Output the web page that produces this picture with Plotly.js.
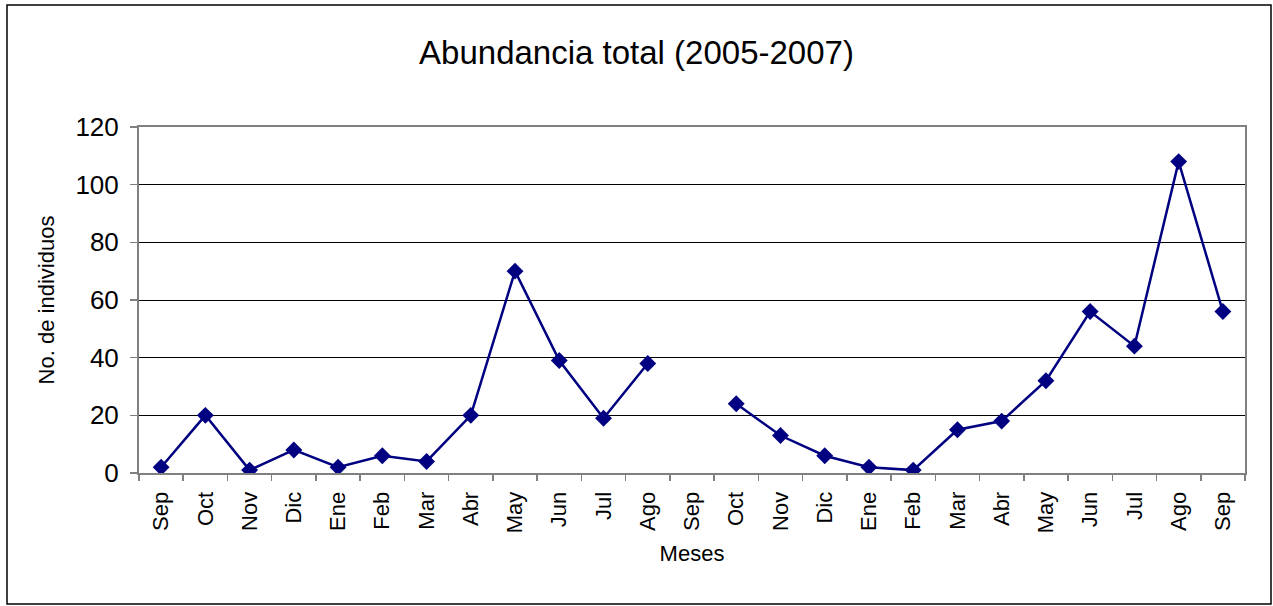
<!DOCTYPE html>
<html>
<head>
<meta charset="utf-8">
<script src="https://cdn.plot.ly/plotly-3.0.1.min.js"></script>
<style>html,body{margin:0;padding:0;background:#fff}#chart{width:1273px;height:606px}</style>
</head>
<body>
<div id="chart"></div>
<script>
const months = ["Sep","Oct","Nov","Dic","Ene","Feb","Mar","Abr","May","Jun","Jul","Ago",
                "Sep","Oct","Nov","Dic","Ene","Feb","Mar","Abr","May","Jun","Jul","Ago","Sep"];
const abundance = [2,20,1,8,2,6,4,20,70,39,19,38,
                   null,24,13,6,2,1,15,18,32,56,44,108,56];

const idx = months.map((m,i)=>i);
const boundaries = months.map((m,i)=>i-0.5).concat([months.length-0.5]);

const font = "Liberation Sans, Arial, sans-serif";
const L=139, R=1245, T=127, B=473;
const W=R-L, H=B-T;

const traces = [{
  x: idx, y: abundance, type: "scatter", mode: "lines+markers",
  connectgaps: false,
  line: {color: "#000080", width: 2.5},
  marker: {symbol: "diamond", size: 13, color: "#000080"},
  hoverinfo: "y"
},{
  x: [0], y: [null], xaxis: "x2", type: "scatter", showlegend: false, hoverinfo: "skip"
}];

const layout = {
  width: 1273, height: 606,
  margin: {l: L, r: 1273-R, t: T, b: 606-B},
  paper_bgcolor: "#fff", plot_bgcolor: "#fff",
  showlegend: false,
  title: {text: "Abundancia total (2005-2007)", font: {family: font, size: 33, color: "#000"},
          x: 0.5, xanchor: "center", y: 1-52/606, yanchor: "middle", automargin: false},
  xaxis: {
    range: [-0.5, months.length-0.5], tickmode: "array", tickvals: idx, ticktext: months,
    tickangle: -90, ticks: "", showgrid: false, zeroline: false, automargin: false,
    tickfont: {family: font, size: 22, color: "#000"}, ticklabelstandoff: 8,
    showline: true, linecolor: "#808080", linewidth: 2, mirror: true,
    title: {text: "Meses", font: {family: font, size: 22, color: "#000"}, standoff: 13},
    fixedrange: true
  },
  xaxis2: {
    overlaying: "x", side: "bottom", range: [-0.5, months.length-0.5],
    tickmode: "array", tickvals: boundaries, ticktext: boundaries.map(()=>""),
    ticks: "outside", ticklen: 7, tickcolor: "#808080", tickwidth: 1.5, automargin: false,
    showgrid: false, zeroline: false, showline: false, fixedrange: true
  },
  yaxis: {
    range: [0, 120], tickmode: "array", tickvals: [0,20,40,60,80,100,120],
    ticks: "outside", ticklen: 7, tickcolor: "#808080", tickwidth: 1.5, automargin: false,
    tickfont: {family: font, size: 26, color: "#000"}, ticklabelstandoff: 6,
    showgrid: true, gridcolor: "#000", gridwidth: 1, zeroline: false,
    showline: true, linecolor: "#808080", linewidth: 2, mirror: true,
    title: {text: "No. de individuos", font: {family: font, size: 22, color: "#000"}, standoff: 15},
    fixedrange: true
  },
  shapes: [{
    type: "rect", xref: "paper", yref: "paper",
    x0: (7-L)/W, x1: (1271-L)/W, y0: (B-604)/H, y1: (B-5)/H,
    line: {color: "#000", width: 1.5}, fillcolor: "rgba(0,0,0,0)", layer: "below"
  }]
};

Plotly.newPlot("chart", traces, layout, {displayModeBar: false, staticPlot: true});
</script>
</body>
</html>
